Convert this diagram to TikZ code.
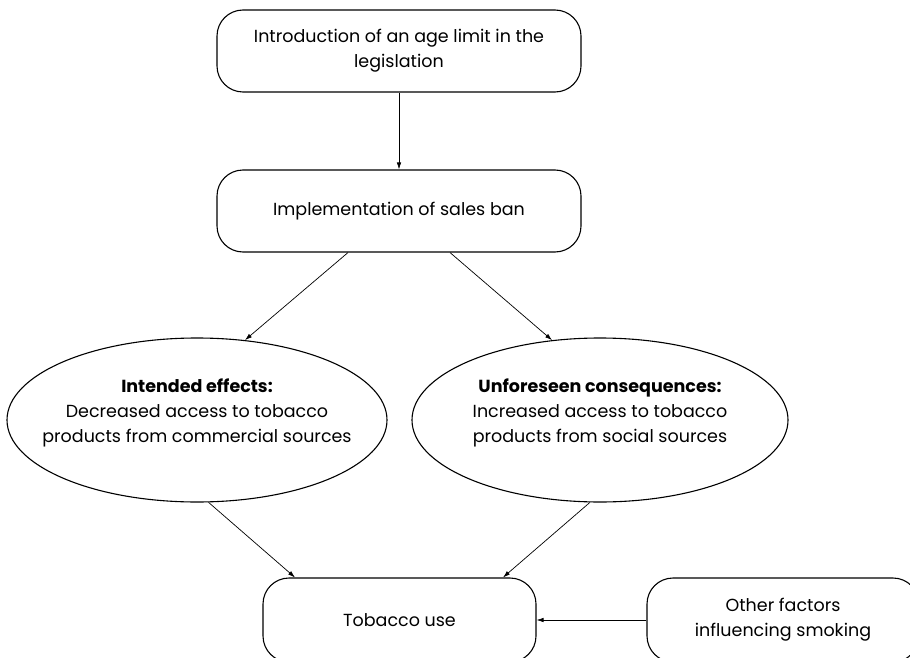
\documentclass[tikz,border=0pt]{standalone}
\usepackage{fontspec}
\setmainfont{Poppins}
\usetikzlibrary{shapes.geometric,arrows.meta}
\begin{document}
\begin{tikzpicture}[x=1pt,y=-1pt,
  every node/.style={font=\fontsize{17.5}{25}\selectfont, align=center},
  rbox/.style={draw, line width=1.1pt, rounded corners=26pt, inner sep=0pt},
  oval/.style={draw, ellipse, line width=1.1pt, inner sep=0pt},
  arr/.style={line width=0.7pt, -{Latex[length=7pt,width=4.5pt]}}]
\useasboundingbox (0,0) rectangle (910,658);
\clip (0,0) rectangle (910,658);
\node[rbox, minimum width=364pt, minimum height=82pt] (intro) at (399,51)
  {Introduction of an age limit in the\\legislation};
\node[rbox, minimum width=364pt, minimum height=82pt] (ban) at (399,211)
  {Implementation of sales ban};
\node[oval, minimum width=380pt, minimum height=164pt,
  label={[yshift=7pt, align=center]center:\textbf{Intended effects:}\\Decreased access to tobacco\\products from commercial sources}]
  (intended) at (197,420) {};
\node[oval, minimum width=376pt, minimum height=164pt,
  label={[yshift=7pt, align=center]center:\textbf{Unforeseen consequences:}\\Increased access to tobacco\\products from social sources}]
  (unforeseen) at (600,420) {};
\node[rbox, minimum width=273pt, minimum height=84pt] (use) at (399.5,620)
  {Tobacco use};
\node[rbox, minimum width=272pt, minimum height=84pt] (other) at (783,620)
  {Other factors\\influencing smoking};
\draw[arr] (intro.south) -- (ban.north);
\draw[arr] ([xshift=-51pt]ban.south) -- (intended.59.4);
\draw[arr] ([xshift=51pt]ban.south) -- (unforeseen.121.7);
\draw[arr] (intended.-82.4) -- ([xshift=-104.5pt]use.north);
\draw[arr] (unforeseen.-97) -- ([xshift=103.5pt]use.north);
\draw[arr] (other.west) -- (use.east);
\end{tikzpicture}
\end{document}
